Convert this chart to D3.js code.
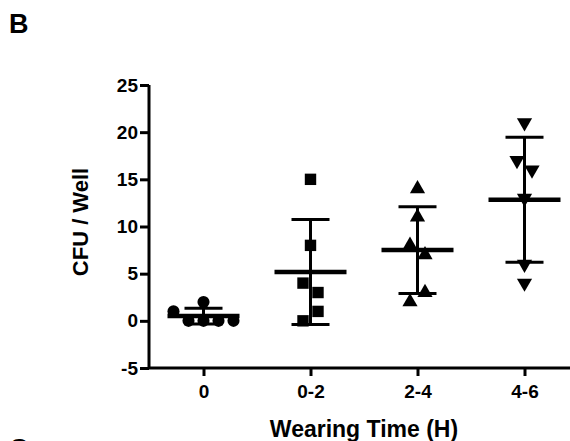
<!DOCTYPE html>
<html>
<head>
<meta charset="utf-8">
<script src="https://cdn.jsdelivr.net/npm/d3@7"></script>
<style>
  body { margin: 0; background: #fff; }
  text { font-family: "Liberation Sans", Arial, Helvetica, sans-serif; font-weight: bold; fill: #000; }
</style>
</head>
<body>
<div id="chart"></div>
<script>
var WIDTH = 570;
var HEIGHT = 441;

// wearing time groups (x categories)
var groups = ["0", "0-2", "2-4", "4-6"];

// CFU per well, one array per group (raw column order)
var cfu0 = [2, 1, 0, 0, 0, 0];
var cfu02 = [15, 8, 4, 3, 0, 1];
var cfu24 = [14, 11, 8, 7, 2, 3];
var cfu46 = [21, 17, 16, 13, 6, 4];

var yTicks = [-5, 0, 5, 10, 15, 20, 25];
var shapes = ["circle", "square", "triangleUp", "triangleDown"];

var columns = [cfu0, cfu02, cfu24, cfu46];

const svg = d3.select("#chart").append("svg")
  .attr("width", WIDTH)
  .attr("height", HEIGHT);

const x = d3.scalePoint()
  .domain(groups)
  .range([150, 578])
  .padding(0.5);

const y = d3.scaleLinear()
  .domain([-5, 25])
  .range([368, 85]);

// y axis (plain hyphen for the minus like the original)
const yAxis = svg.append("g")
  .attr("transform", "translate(149,0)")
  .call(d3.axisLeft(y)
    .tickValues(yTicks)
    .tickFormat(d => String(d))
    .tickSize(9)
    .tickPadding(2));

yAxis.select(".domain").attr("d", `M0,${y(25)}V${y(-5)}`);

// x axis
const xAxis = svg.append("g")
  .attr("transform", `translate(0,${y(-5)})`)
  .call(d3.axisBottom(x).tickSize(8).tickPadding(9));

xAxis.select(".domain").attr("d", `M149,0H${WIDTH + 5}`);

svg.selectAll(".domain, .tick line")
  .attr("stroke", "#000")
  .attr("stroke-width", 3);

svg.selectAll(".tick text")
  .style("font-size", "19px");

// dodge points that sit at almost the same height
function dodge(values) {
  let order = values.map((v, i) => i).sort((a, b) => values[a] - values[b]);
  let bins = [];
  order.forEach(i => {
    let last = bins[bins.length - 1];
    if (last && values[i] - values[last[0]] <= 1.2) last.push(i);
    else bins.push([i]);
  });
  let offsets = new Array(values.length).fill(0);
  bins.forEach(b => {
    b.sort((p, q) => p - q);
    b.forEach((i, k) => offsets[i] = (k - (b.length - 1) / 2) * 15);
  });
  return offsets;
}

const symbolTypes = {
  circle: d3.symbolCircle,
  square: d3.symbolSquare,
  triangleUp: d3.symbolTriangle,
  triangleDown: d3.symbolTriangle
};

const plot = svg.append("g");

columns.forEach((vals, gi) => {
  const cx = x(groups[gi]);
  const m = d3.mean(vals);
  const sd = d3.deviation(vals);
  const g = plot.append("g");

  // points
  const off = dodge(vals);
  const shape = shapes[gi];
  const size = shape === "circle" ? 115 : shape === "square" ? 130 : 100;
  g.selectAll("path.pt")
    .data(vals)
    .join("path")
      .attr("class", "pt")
      .attr("d", d3.symbol(symbolTypes[shape], size))
      .attr("transform", (d, i) => `translate(${cx + off[i]},${y(d)})` +
        (shape === "triangleDown" ? " rotate(180)" : ""))
      .attr("fill", "#000");

  // mean and SD
  g.append("line")
    .attr("x1", cx).attr("x2", cx)
    .attr("y1", y(m + sd)).attr("y2", y(m - sd))
    .attr("stroke", "#000").attr("stroke-width", 3);

  [m + sd, m - sd].forEach(v => {
    g.append("line")
      .attr("x1", cx - 19).attr("x2", cx + 19)
      .attr("y1", y(v)).attr("y2", y(v))
      .attr("stroke", "#000").attr("stroke-width", 3);
  });

  g.append("line")
    .attr("x1", cx - 36).attr("x2", cx + 36)
    .attr("y1", y(m)).attr("y2", y(m))
    .attr("stroke", "#000").attr("stroke-width", 4.5);
});

// titles
svg.append("text")
  .attr("x", 364)
  .attr("y", 437)
  .attr("text-anchor", "middle")
  .style("font-size", "23px")
  .text("Wearing Time (H)");

svg.append("text")
  .attr("transform", "translate(88,222) rotate(-90)")
  .attr("text-anchor", "middle")
  .style("font-size", "22px")
  .text("CFU / Well");

// panel letters
svg.append("text")
  .attr("x", 9)
  .attr("y", 33)
  .style("font-size", "27px")
  .text("B");

svg.append("text")
  .attr("x", 9)
  .attr("y", 458)
  .style("font-size", "27px")
  .text("C");
</script>
</body>
</html>
